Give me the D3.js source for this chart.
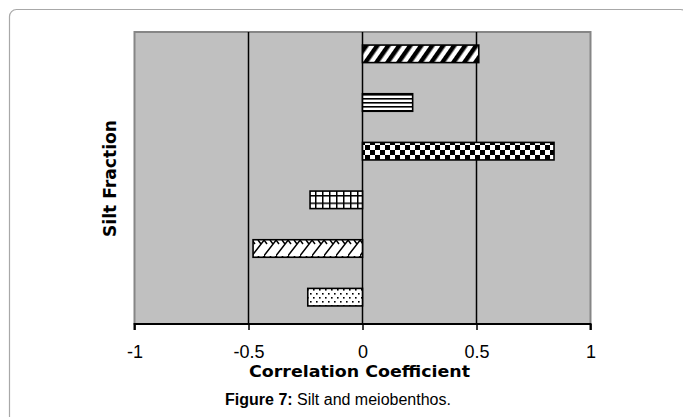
<!DOCTYPE html>
<html><head><meta charset="utf-8">
<script src="https://cdn.jsdelivr.net/npm/d3@7"></script>
<style>html,body{margin:0;padding:0;background:#fff;}svg{display:block;}</style>
</head><body>
<svg id="chart" width="683" height="417"></svg>
<script>
const categories = ["Series 1", "Series 2", "Series 3", "Series 4", "Series 5", "Series 6"];
const values = [0.51, 0.22, 0.84, -0.23, -0.48, -0.24];
const patterns = ["stripes", "hlines", "checker", "grid", "weave", "dots"];
const xTicks = [-1, -0.5, 0, 0.5, 1];
const gridValues = [-0.5, 0, 0.5];
const xTitle = "Correlation Coefficient";
const yTitle = "Silt Fraction";

const svg = d3.select("#chart");
const plot = {left: 134.5, right: 590.5, top: 32, bottom: 324};

// outer rounded frame
svg.append("rect").attr("x", 9.5).attr("y", 9.5).attr("width", 678).attr("height", 430)
  .attr("rx", 7).attr("fill", "#fff").attr("stroke", "#a8a8a8").attr("stroke-width", 1.2);

// patterns
const defs = svg.append("defs");
function pat(id, w, h, tr) {
  const p = defs.append("pattern").attr("id", id).attr("patternUnits", "userSpaceOnUse")
    .attr("width", w).attr("height", h);
  if (tr) p.attr("patternTransform", tr);
  p.append("rect").attr("width", w).attr("height", h).attr("fill", "#fff");
  return p;
}
let p;
p = pat("stripes", 9, 9, "rotate(35)");
p.append("rect").attr("x", 0).attr("y", 0).attr("width", 4.5).attr("height", 9).attr("fill", "#000");
p = pat("hlines", 6, 4);
p.append("rect").attr("x", 0).attr("y", 2).attr("width", 6).attr("height", 1.6).attr("fill", "#000");
p = pat("checker", 10, 10);
p.append("rect").attr("x", 0).attr("y", 0).attr("width", 5).attr("height", 5).attr("fill", "#000");
p.append("rect").attr("x", 5).attr("y", 5).attr("width", 5).attr("height", 5).attr("fill", "#000");
p = pat("grid", 7, 7.5);
p.append("rect").attr("x", 0).attr("y", 0).attr("width", 7).attr("height", 1.5).attr("fill", "#000");
p.append("rect").attr("x", 0).attr("y", 0).attr("width", 1.5).attr("height", 7.5).attr("fill", "#000");
p = pat("weave", 12, 16);
p.append("path").attr("d", "M-1,17 L13,-1 M6,0 L9,4 M0,0 L3,4 M12,0 L15,4").attr("stroke", "#000").attr("stroke-width", 1.5).attr("fill", "none");
p = pat("dots", 6, 8);
p.append("rect").attr("x", 1).attr("y", 1).attr("width", 1.6).attr("height", 1.6).attr("fill", "#000");
p.append("rect").attr("x", 4).attr("y", 5).attr("width", 1.6).attr("height", 1.6).attr("fill", "#000");

// scales
const x = d3.scaleLinear().domain([-1, 1]).range([plot.left, plot.right]);
const y = d3.scaleBand().domain(categories).range([plot.top - 2.5, plot.bottom - 2.5])
  .paddingInner(0.64).paddingOuter(0.32);

// plot background
svg.append("rect").attr("x", plot.left).attr("y", plot.top)
  .attr("width", plot.right - plot.left).attr("height", plot.bottom - plot.top)
  .attr("fill", "#c0c0c0").attr("stroke", "#868686").attr("stroke-width", 2);

// gridlines
svg.append("g").selectAll("line").data(gridValues).join("line")
  .attr("x1", d => x(d)).attr("x2", d => x(d))
  .attr("y1", plot.top).attr("y2", plot.bottom)
  .attr("stroke", "#000").attr("stroke-width", 1.5);

// bars
svg.append("g").selectAll("rect").data(categories).join("rect")
  .attr("x", (c, i) => x(Math.min(0, values[i])))
  .attr("y", c => y(c))
  .attr("width", (c, i) => Math.abs(x(values[i]) - x(0)))
  .attr("height", y.bandwidth())
  .attr("fill", (c, i) => `url(#${patterns[i]})`)
  .attr("stroke", "#000").attr("stroke-width", 1.6);

// x axis
const axis = d3.axisBottom(x).tickValues(xTicks).tickSize(6).tickPadding(14)
  .tickFormat(d => String(d));
const ag = svg.append("g").attr("transform", `translate(0,${plot.bottom})`).call(axis);
ag.select(".domain").attr("stroke", "#000").attr("stroke-width", 2).attr("d", `M${plot.left},6V0H${plot.right}V6`);
ag.selectAll(".tick line").attr("stroke", "#000").attr("stroke-width", 1.5);
ag.selectAll(".tick text").attr("font-family", "Liberation Sans, Arial, sans-serif")
  .attr("font-size", 18).attr("fill", "#000").attr("dy", null).attr("y", 34);

// axis titles
svg.append("text").attr("x", 359.5).attr("y", 377).attr("text-anchor", "middle")
  .attr("font-family", "DejaVu Sans, sans-serif").attr("font-weight", "bold")
  .attr("font-size", 16.5).attr("textLength", 221).attr("lengthAdjust", "spacingAndGlyphs")
  .attr("fill", "#000").text(xTitle);
svg.append("text").attr("transform", "translate(116,178.5) rotate(-90)").attr("text-anchor", "middle")
  .attr("font-family", "DejaVu Sans, sans-serif").attr("font-weight", "bold")
  .attr("font-size", 17).attr("textLength", 117).attr("lengthAdjust", "spacingAndGlyphs")
  .attr("fill", "#000").text(yTitle);

// caption
const cap = svg.append("text").attr("x", 338).attr("y", 405).attr("text-anchor", "middle")
  .attr("font-family", "Liberation Sans, Arial, sans-serif").attr("font-size", 16).attr("fill", "#000");
cap.append("tspan").attr("font-weight", "bold").text("Figure 7:");
cap.append("tspan").text(" Silt and meiobenthos.");
</script>
</body></html>
